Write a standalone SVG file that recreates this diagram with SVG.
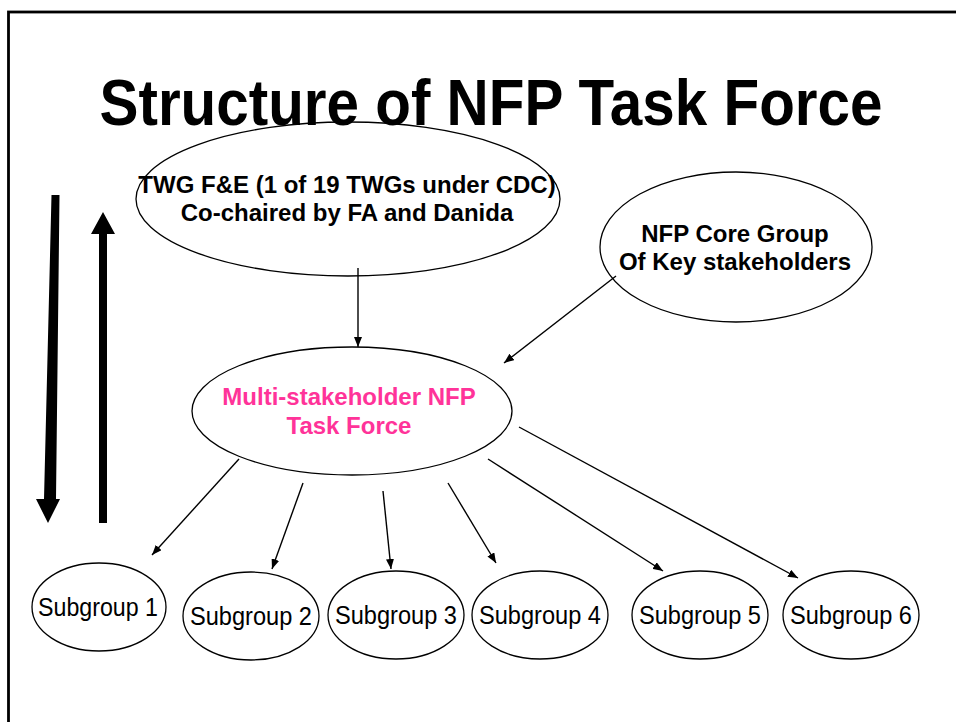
<svg xmlns="http://www.w3.org/2000/svg" width="956" height="722" viewBox="0 0 956 722">
<style>
.node ellipse{fill:none;stroke:#000;stroke-width:1.3}
.bold{font-family:"Liberation Sans",Arial,sans-serif;font-weight:bold;font-size:24px;text-anchor:middle;fill:#000}
.pink{fill:#FF3399}
.sub{font-family:"Liberation Sans",Arial,sans-serif;font-size:25px;text-anchor:middle;fill:#000}
.conn line{stroke:#000;stroke-width:1.4;marker-end:url(#ah)}
</style>
<defs>
<marker id="ah" viewBox="0 0 10 8" refX="10" refY="4" markerWidth="10" markerHeight="8" markerUnits="userSpaceOnUse" orient="auto">
<path d="M0,0 L10,4 L0,8 z" fill="#000"/>
</marker>
</defs>
<rect x="0" y="0" width="956" height="722" fill="#fff"/>
<rect x="8.5" y="12" width="960" height="730" fill="none" stroke="#000" stroke-width="2.8"/>
<text x="491" y="125" font-family="'Liberation Sans',Arial,sans-serif" font-weight="bold" font-size="64" text-anchor="middle" textLength="783" lengthAdjust="spacingAndGlyphs">Structure of NFP Task Force</text>
<g id="updown">
<polygon points="51.5,195 59.5,195 56,499 60,499 48,523 36,499 44,499"/>
<polygon points="99,523 107,523 107,234 115,234 103,212 91,234 99,234"/>
</g>
<g class="conn" id="connectors">
<line x1="358" y1="268" x2="358" y2="347"/>
<line x1="616" y1="276" x2="504" y2="363"/>
<line x1="239" y1="459" x2="152" y2="555"/>
<line x1="303" y1="483" x2="272" y2="569"/>
<line x1="383" y1="491" x2="391" y2="569"/>
<line x1="448" y1="483" x2="496" y2="563"/>
<line x1="488" y1="459" x2="663" y2="571"/>
<line x1="519" y1="427" x2="798" y2="578"/>
</g>
<g class="node" id="twg">
<ellipse cx="348" cy="199" rx="212" ry="77"/>
<text class="bold" x="347" y="193">TWG F&amp;E (1 of 19 TWGs under CDC)</text>
<text class="bold" x="347" y="221">Co-chaired by FA and Danida</text>
</g>
<g class="node" id="core">
<ellipse cx="736" cy="247" rx="136" ry="75"/>
<text class="bold" x="735" y="242">NFP Core Group</text>
<text class="bold" x="735" y="270">Of Key stakeholders</text>
</g>
<g class="node" id="taskforce">
<ellipse cx="352" cy="411" rx="160" ry="64"/>
<text class="bold pink" x="349" y="405">Multi-stakeholder NFP</text>
<text class="bold pink" x="349" y="434">Task Force</text>
</g>
<g class="node" id="sub1">
<ellipse cx="99" cy="607" rx="67" ry="44"/>
<text class="sub" x="98" y="616" textLength="120" lengthAdjust="spacingAndGlyphs">Subgroup 1</text>
</g>
<g class="node" id="sub2">
<ellipse cx="251" cy="616" rx="68" ry="44"/>
<text class="sub" x="251" y="625" textLength="122" lengthAdjust="spacingAndGlyphs">Subgroup 2</text>
</g>
<g class="node" id="sub3">
<ellipse cx="396" cy="615" rx="68" ry="44"/>
<text class="sub" x="396" y="624" textLength="122" lengthAdjust="spacingAndGlyphs">Subgroup 3</text>
</g>
<g class="node" id="sub4">
<ellipse cx="540" cy="615" rx="68" ry="44"/>
<text class="sub" x="540" y="624" textLength="122" lengthAdjust="spacingAndGlyphs">Subgroup 4</text>
</g>
<g class="node" id="sub5">
<ellipse cx="700" cy="615" rx="68" ry="44"/>
<text class="sub" x="700" y="624" textLength="122" lengthAdjust="spacingAndGlyphs">Subgroup 5</text>
</g>
<g class="node" id="sub6">
<ellipse cx="851" cy="615" rx="68" ry="44"/>
<text class="sub" x="851" y="624" textLength="122" lengthAdjust="spacingAndGlyphs">Subgroup 6</text>
</g>
</svg>
